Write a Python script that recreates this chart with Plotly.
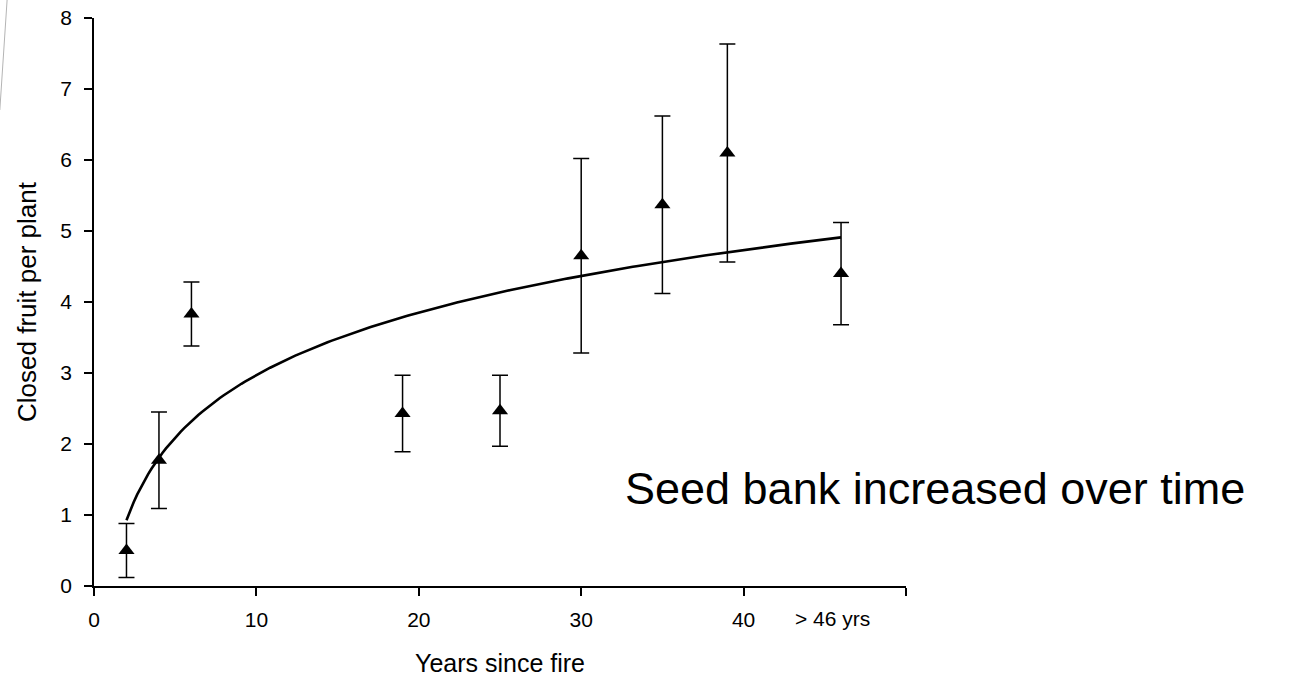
import numpy as np
import plotly.graph_objects as go

# Years since fire and mean closed fruit per plant (± error)
years = [2, 4, 6, 19, 25, 30, 35, 39, 46]
fruit = [0.50, 1.77, 3.83, 2.43, 2.47, 4.65, 5.37, 6.10, 4.40]
err = [0.38, 0.68, 0.45, 0.54, 0.50, 1.37, 1.25, 1.535, 0.72]

x_tickvals = [0, 10, 20, 30, 40, 50]
x_ticktext = ["0", "10", "20", "30", "40", ""]
last_label = "> 46 yrs"
last_label_x = 45.5
y_tickvals = [0, 1, 2, 3, 4, 5, 6, 7, 8]

# Logarithmic trendline y = a + b*ln(x) fitted to the means
b, a = np.polyfit(np.log(years), fruit, 1)
xt = np.linspace(min(years), max(years), 200)
yt = a + b * np.log(xt)

FONT = "Arial, Liberation Sans, sans-serif"
TICK = 21

fig = go.Figure()
fig.add_trace(go.Scatter(
    x=xt, y=yt, mode="lines",
    line=dict(color="black", width=2.6),
    hoverinfo="skip", showlegend=False,
))
fig.add_trace(go.Scatter(
    x=years, y=fruit, mode="markers",
    marker=dict(symbol="triangle-up", size=14, color="black"),
    error_y=dict(type="data", array=err, visible=True,
                 color="black", thickness=1.5, width=8),
    showlegend=False,
))

fig.update_layout(
    width=1297, height=680,
    margin=dict(l=94, r=391, t=18, b=94, autoexpand=False),
    plot_bgcolor="white", paper_bgcolor="white",
    font=dict(family=FONT, size=TICK, color="black"),
    xaxis=dict(
        range=[0, 50], tickvals=x_tickvals, ticktext=x_ticktext,
        showgrid=False, zeroline=False, automargin=False,
        showline=True, linecolor="black", linewidth=1.5,
        ticks="outside", ticklen=8, tickwidth=1.5, tickcolor="black",
        tickfont=dict(size=TICK), ticklabelstandoff=6,
        title=dict(text="Years since fire", font=dict(size=25), standoff=25),
    ),
    yaxis=dict(
        range=[0, 8], tickvals=y_tickvals,
        showgrid=False, zeroline=False, automargin=False,
        showline=True, linecolor="black", linewidth=1.5,
        ticks="outside", ticklen=8, tickwidth=1.5, tickcolor="black",
        tickfont=dict(size=TICK), ticklabelstandoff=8,
        title=dict(text="Closed fruit per plant", font=dict(size=26), standoff=16),
    ),
    annotations=[
        dict(
            text="Seed bank increased over time",
            xref="paper", yref="paper", x=0.652, y=0.172,
            xanchor="left", yanchor="middle", showarrow=False,
            font=dict(family=FONT, size=45, color="black"),
        ),
        dict(
            text=last_label,
            xref="x", yref="paper", x=last_label_x, y=-0.058,
            xanchor="center", yanchor="middle", showarrow=False,
            font=dict(family=FONT, size=TICK, color="black"),
        ),
    ],
    shapes=[dict(
        type="line", xref="paper", yref="paper",
        x0=-0.107, y0=1.032, x1=-0.116, y1=0.838,
        line=dict(color="#b4b4b4", width=1),
    )],
)

fig.write_html("out.html")
